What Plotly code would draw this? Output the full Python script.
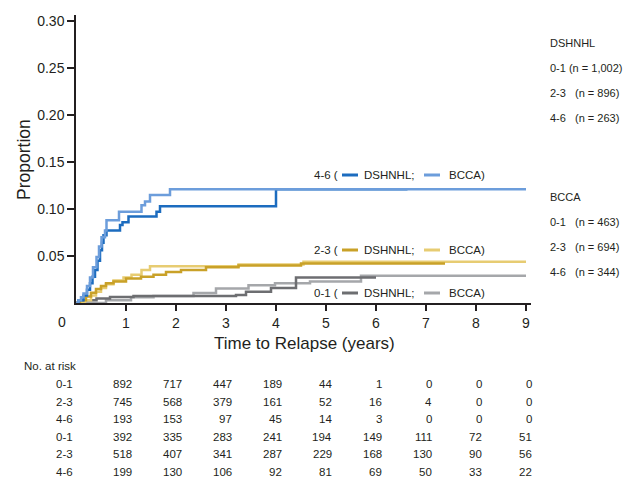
import plotly.graph_objects as go

# ---- data ----
t_46_dsh = [0, 0.05, 0.15, 0.22, 0.28, 0.33, 0.38, 0.43, 0.48, 0.52, 0.55, 0.61, 0.88, 0.93, 1.05, 1.61, 1.68, 4.0, 6.63]
y_46_dsh = [0, 0.003, 0.008, 0.014, 0.021, 0.028, 0.035, 0.045, 0.056, 0.064, 0.072, 0.077, 0.083, 0.086, 0.092, 0.097, 0.103, 0.121, 0.121]
t_46_bcca = [0, 0.05, 0.1, 0.15, 0.22, 0.28, 0.34, 0.41, 0.46, 0.51, 0.58, 0.61, 0.86, 1.31, 1.38, 1.48, 1.88, 9.0]
y_46_bcca = [0, 0.003, 0.006, 0.010, 0.018, 0.027, 0.038, 0.049, 0.060, 0.070, 0.077, 0.088, 0.097, 0.104, 0.108, 0.115, 0.121, 0.121]

t_23_dsh = [0, 0.08, 0.2, 0.3, 0.4, 0.5, 0.6, 0.75, 1.0, 1.3, 1.55, 1.8, 2.1, 2.6, 3.25, 4.5, 7.38]
y_23_dsh = [0, 0.003, 0.007, 0.011, 0.015, 0.018, 0.021, 0.023, 0.026, 0.028, 0.030, 0.033, 0.035, 0.038, 0.040, 0.042, 0.042]
t_23_bcca = [0, 0.18, 0.3, 0.4, 0.5, 0.6, 0.75, 0.95, 1.11, 1.31, 1.48, 3.25, 4.55, 9.0]
y_23_bcca = [0, 0.003, 0.008, 0.012, 0.016, 0.020, 0.024, 0.027, 0.030, 0.035, 0.039, 0.041, 0.044, 0.044]

t_01_dsh = [0, 0.15, 0.41, 0.68, 1.15, 3.2, 3.4, 3.9, 4.4, 6.0]
y_01_dsh = [0, 0.003, 0.0047, 0.0064, 0.0075, 0.0085, 0.012, 0.016, 0.027, 0.027]
t_01_bcca = [0, 0.6, 1.1, 1.55, 2.35, 2.8, 3.45, 3.98, 4.68, 5.7, 9.0]
y_01_bcca = [0, 0.003, 0.006, 0.0075, 0.0107, 0.0153, 0.0188, 0.021, 0.023, 0.029, 0.029]

risk_times = [1, 2, 3, 4, 5, 6, 7, 8, 9]
risk_labels = ["0-1", "2-3", "4-6", "0-1", "2-3", "4-6"]
risk_rows = [
    [892, 717, 447, 189, 44, 1, 0, 0, 0],
    [745, 568, 379, 161, 52, 16, 4, 0, 0],
    [193, 153, 97, 45, 14, 3, 0, 0, 0],
    [392, 335, 283, 241, 194, 149, 111, 72, 51],
    [518, 407, 341, 287, 229, 168, 130, 90, 56],
    [199, 130, 106, 92, 81, 69, 50, 33, 22],
]
x_ticks = [1, 2, 3, 4, 5, 6, 7, 8, 9]
y_ticks = [0.05, 0.10, 0.15, 0.20, 0.25, 0.30]

# ---- styles ----
C = {
    "blue_d": "#1c6cbf", "blue_l": "#6c9ddb",
    "gold_d": "#c9a128", "gold_l": "#e7cc72",
    "gray_d": "#6d6e71", "gray_l": "#a5a7aa",
}
TXT = "#231f20"
FONT = "Liberation Sans, Arial, sans-serif"

fig = go.Figure()
series = [
    (t_01_bcca, y_01_bcca, C["gray_l"]), (t_01_dsh, y_01_dsh, C["gray_d"]),
    (t_23_bcca, y_23_bcca, C["gold_l"]), (t_23_dsh, y_23_dsh, C["gold_d"]),
    (t_46_dsh, y_46_dsh, C["blue_d"]), (t_46_bcca, y_46_bcca, C["blue_l"]),
]
for t, y, c in series:
    fig.add_trace(go.Scatter(x=t, y=y, mode="lines", line=dict(color=c, width=2.5, shape="hv"),
                             showlegend=False, hoverinfo="skip"))

W, H = 631, 480
ML, MR, MT, MB = 76, 100, 15, 177
PW, PH = W - ML - MR, H - MT - MB
XMAX = 9.1
YMAX = 0.3064


def px_to_x(px):
    return (px - ML) / PW * XMAX


def py_to_y(py):
    return (H - MB - py) / PH * YMAX


def py_to_paper(py):
    return (H - MB - py) / PH


def px_to_paper(px):
    return (px - ML) / PW


def txt(size):
    return dict(size=size, color=TXT, family=FONT)


ann = []
shapes = []
# in-plot group labels with colored keys
groups = [("4-6 (", 175, C["blue_d"], C["blue_l"]),
          ("2-3 (", 250, C["gold_d"], C["gold_l"]),
          ("0-1 (", 293, C["gray_d"], C["gray_l"])]
for lab, py, cd, cl in groups:
    yv = py_to_y(py)
    ann.append(dict(x=px_to_x(340), y=yv, text=lab, xanchor="right", yanchor="middle", showarrow=False, font=txt(11.5)))
    ann.append(dict(x=px_to_x(362), y=yv, text="DSHNHL;", xanchor="left", yanchor="middle", showarrow=False, font=txt(11.5)))
    ann.append(dict(x=px_to_x(447), y=yv, text="BCCA)", xanchor="left", yanchor="middle", showarrow=False, font=txt(11.5)))
    shapes.append(dict(type="line", xref="x", yref="y", x0=px_to_x(342), x1=px_to_x(358), y0=yv, y1=yv,
                       line=dict(color=cd, width=3)))
    shapes.append(dict(type="line", xref="x", yref="y", x0=px_to_x(424), x1=px_to_x(440), y0=yv, y1=yv,
                       line=dict(color=cl, width=3)))

# right-hand labels
right = [("DSHNHL", None, 43), ("0-1 (n = 1,002)", None, 68), ("2-3", "(n = 896)", 93), ("4-6", "(n = 263)", 118),
         ("BCCA", None, 197), ("0-1", "(n = 463)", 222), ("2-3", "(n = 694)", 247), ("4-6", "(n = 344)", 272)]
for a, b, py in right:
    ann.append(dict(xref="paper", yref="paper", x=px_to_paper(548), y=py_to_paper(py), text=a,
                    xanchor="left", yanchor="middle", showarrow=False, font=txt(11)))
    if b:
        ann.append(dict(xref="paper", yref="paper", x=px_to_paper(573), y=py_to_paper(py), text=b,
                        xanchor="left", yanchor="middle", showarrow=False, font=txt(11)))

# axis "0" label at corner
ann.append(dict(xref="paper", yref="paper", x=px_to_paper(62), y=py_to_paper(322), text="0",
                xanchor="center", yanchor="middle", showarrow=False, font=txt(14)))
# axis titles
ann.append(dict(xref="paper", yref="paper", x=px_to_paper(304), y=py_to_paper(343), text="Time to Relapse (years)",
                xanchor="center", yanchor="middle", showarrow=False, font=txt(17)))
ann.append(dict(xref="paper", yref="paper", x=px_to_paper(24), y=py_to_paper(160), text="Proportion",
                textangle=-90, xanchor="center", yanchor="middle", showarrow=False, font=txt(17.5)))

# number at risk table
ann.append(dict(xref="paper", yref="paper", x=px_to_paper(22), y=py_to_paper(366), text="No. at risk",
                xanchor="left", yanchor="middle", showarrow=False, font=txt(11.5)))
row_py = [384, 401.5, 419, 436.5, 454.5, 472]
for lab, vals, py in zip(risk_labels, risk_rows, row_py):
    ann.append(dict(xref="paper", yref="paper", x=px_to_paper(75), y=py_to_paper(py), text=lab,
                    xanchor="right", yanchor="middle", showarrow=False, font=txt(11.5)))
    for t, v in zip(risk_times, vals):
        ann.append(dict(xref="x", yref="paper", x=t, xshift=8, y=py_to_paper(py), text=str(v),
                        xanchor="right", yanchor="middle", showarrow=False, font=txt(11.5)))

fig.update_layout(
    width=W, height=H,
    margin=dict(l=ML, r=MR, t=MT, b=MB, autoexpand=False),
    paper_bgcolor="white", plot_bgcolor="white",
    annotations=ann, shapes=shapes,
    xaxis=dict(range=[0, XMAX], tickvals=x_ticks, ticktext=[str(v) for v in x_ticks],
               showgrid=False, zeroline=False, showline=True, linecolor="#231f20", linewidth=1.5,
               ticks="outside", ticklen=6, tickwidth=1.5, tickcolor="#231f20", tickfont=txt(14)),
    yaxis=dict(range=[0, YMAX], tickvals=y_ticks, ticktext=[f"{v:.2f}" for v in y_ticks],
               showgrid=False, zeroline=False, showline=True, linecolor="#231f20", linewidth=1.5,
               ticks="outside", ticklen=7, tickwidth=1.5, tickcolor="#231f20", tickfont=txt(14)),
)

fig.write_html("out.html", config={"displayModeBar": False},
               post_script="document.body.style.margin='0';document.body.style.overflow='hidden';")
